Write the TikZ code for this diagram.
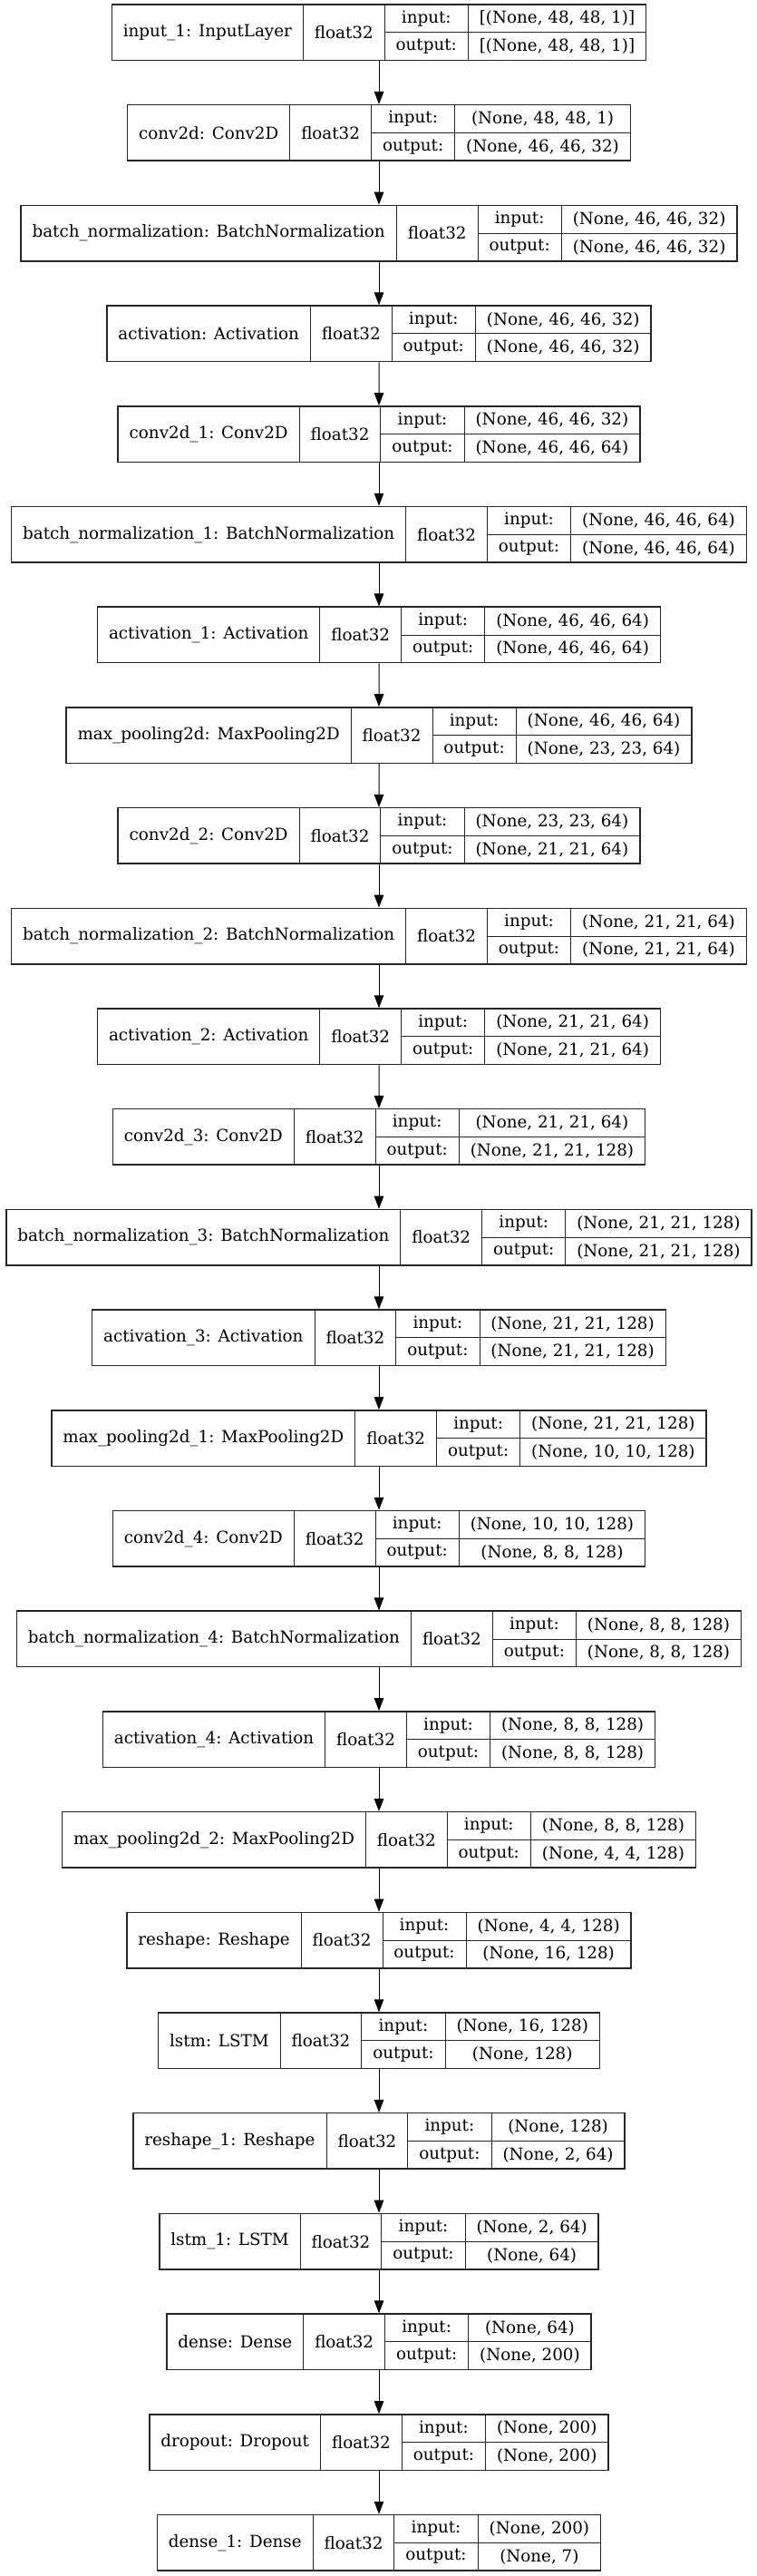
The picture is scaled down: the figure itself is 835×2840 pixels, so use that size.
\documentclass[tikz,border=0pt]{standalone}
\usepackage{fontspec}
\setmainfont{DejaVu Serif}
\usetikzlibrary{arrows.meta,fit}
\newcommand\lfont{\fontsize{18.3}{22}\selectfont}
\newlength\wA \newlength\wB \newlength\wC \newlength\wD \newlength\wtmp
\newcommand\padw{25pt}
\newcommand\cx{418}
\newcommand\bh{61.5}
\newcommand\measureto[2]{\pgfinterruptpicture\normalfont\settowidth\wtmp{\lfont #2}\global#1=\wtmp\endpgfinterruptpicture}
\tikzset{
  field/.style={draw=black!85, line width=0.9pt, inner sep=0pt, outer sep=0pt, font=\lfont, anchor=north west},
  frame/.style={draw=black!85, line width=1.5pt, inner sep=0pt},
  conn/.style={line width=1pt, -{Triangle[length=14pt,width=10.5pt]}}
}
% #1 id, #2 index, #3 label, #4 input shape, #5 output shape
\newcommand\layer[5]{%
  \measureto\wA{#3}\addtolength\wA{\padw}%
  \measureto\wB{float32}\addtolength\wB{\padw}%
  \measureto\wC{output:}\addtolength\wC{\padw}%
  \measureto\wD{#4}\measureto\wtmp{#5}%
  \ifdim\wtmp>\wD \wD=\wtmp\fi\addtolength\wD{\padw}%
  \pgfmathsetmacro\lx{\cx-(\wA+\wB+\wC+\wD)/2}%
  \pgfmathsetmacro\ty{5+#2*110.7}%
  \node[field, minimum width=\wA, minimum height=\bh pt] (#1-n) at (\lx,\ty) {#3};
  \node[field, minimum width=\wB, minimum height=\bh pt] (#1-t) at (#1-n.north east) {float32};
  \node[field, minimum width=\wC, minimum height=\bh/2 pt] (#1-il) at (#1-t.north east) {input:};
  \node[field, minimum width=\wC, minimum height=\bh/2 pt] (#1-ol) at (#1-il.south west) {output:};
  \node[field, minimum width=\wD, minimum height=\bh/2 pt] (#1-iv) at (#1-il.north east) {#4};
  \node[field, minimum width=\wD, minimum height=\bh/2 pt] (#1-ov) at (#1-ol.north east) {#5};
  \node[frame, fit=(#1-n)(#1-ov)] (#1) {};
}
\begin{document}
\begin{tikzpicture}[x=1pt,y=-1pt]
\useasboundingbox[fill=white] (0,0) rectangle (835,2840);
\layer{L0}{0}{input\_1: InputLayer}{[(None, 48, 48, 1)]}{[(None, 48, 48, 1)]}
\layer{L1}{1}{conv2d: Conv2D}{(None, 48, 48, 1)}{(None, 46, 46, 32)}
\layer{L2}{2}{batch\_normalization: BatchNormalization}{(None, 46, 46, 32)}{(None, 46, 46, 32)}
\layer{L3}{3}{activation: Activation}{(None, 46, 46, 32)}{(None, 46, 46, 32)}
\layer{L4}{4}{conv2d\_1: Conv2D}{(None, 46, 46, 32)}{(None, 46, 46, 64)}
\layer{L5}{5}{batch\_normalization\_1: BatchNormalization}{(None, 46, 46, 64)}{(None, 46, 46, 64)}
\layer{L6}{6}{activation\_1: Activation}{(None, 46, 46, 64)}{(None, 46, 46, 64)}
\layer{L7}{7}{max\_pooling2d: MaxPooling2D}{(None, 46, 46, 64)}{(None, 23, 23, 64)}
\layer{L8}{8}{conv2d\_2: Conv2D}{(None, 23, 23, 64)}{(None, 21, 21, 64)}
\layer{L9}{9}{batch\_normalization\_2: BatchNormalization}{(None, 21, 21, 64)}{(None, 21, 21, 64)}
\layer{L10}{10}{activation\_2: Activation}{(None, 21, 21, 64)}{(None, 21, 21, 64)}
\layer{L11}{11}{conv2d\_3: Conv2D}{(None, 21, 21, 64)}{(None, 21, 21, 128)}
\layer{L12}{12}{batch\_normalization\_3: BatchNormalization}{(None, 21, 21, 128)}{(None, 21, 21, 128)}
\layer{L13}{13}{activation\_3: Activation}{(None, 21, 21, 128)}{(None, 21, 21, 128)}
\layer{L14}{14}{max\_pooling2d\_1: MaxPooling2D}{(None, 21, 21, 128)}{(None, 10, 10, 128)}
\layer{L15}{15}{conv2d\_4: Conv2D}{(None, 10, 10, 128)}{(None, 8, 8, 128)}
\layer{L16}{16}{batch\_normalization\_4: BatchNormalization}{(None, 8, 8, 128)}{(None, 8, 8, 128)}
\layer{L17}{17}{activation\_4: Activation}{(None, 8, 8, 128)}{(None, 8, 8, 128)}
\layer{L18}{18}{max\_pooling2d\_2: MaxPooling2D}{(None, 8, 8, 128)}{(None, 4, 4, 128)}
\layer{L19}{19}{reshape: Reshape}{(None, 4, 4, 128)}{(None, 16, 128)}
\layer{L20}{20}{lstm: LSTM}{(None, 16, 128)}{(None, 128)}
\layer{L21}{21}{reshape\_1: Reshape}{(None, 128)}{(None, 2, 64)}
\layer{L22}{22}{lstm\_1: LSTM}{(None, 2, 64)}{(None, 64)}
\layer{L23}{23}{dense: Dense}{(None, 64)}{(None, 200)}
\layer{L24}{24}{dropout: Dropout}{(None, 200)}{(None, 200)}
\layer{L25}{25}{dense\_1: Dense}{(None, 200)}{(None, 7)}
\foreach \a [evaluate=\a as \b using int(\a+1)] in {0,...,24}
  \draw[conn] (L\a) -- (L\b);
\end{tikzpicture}
\end{document}
